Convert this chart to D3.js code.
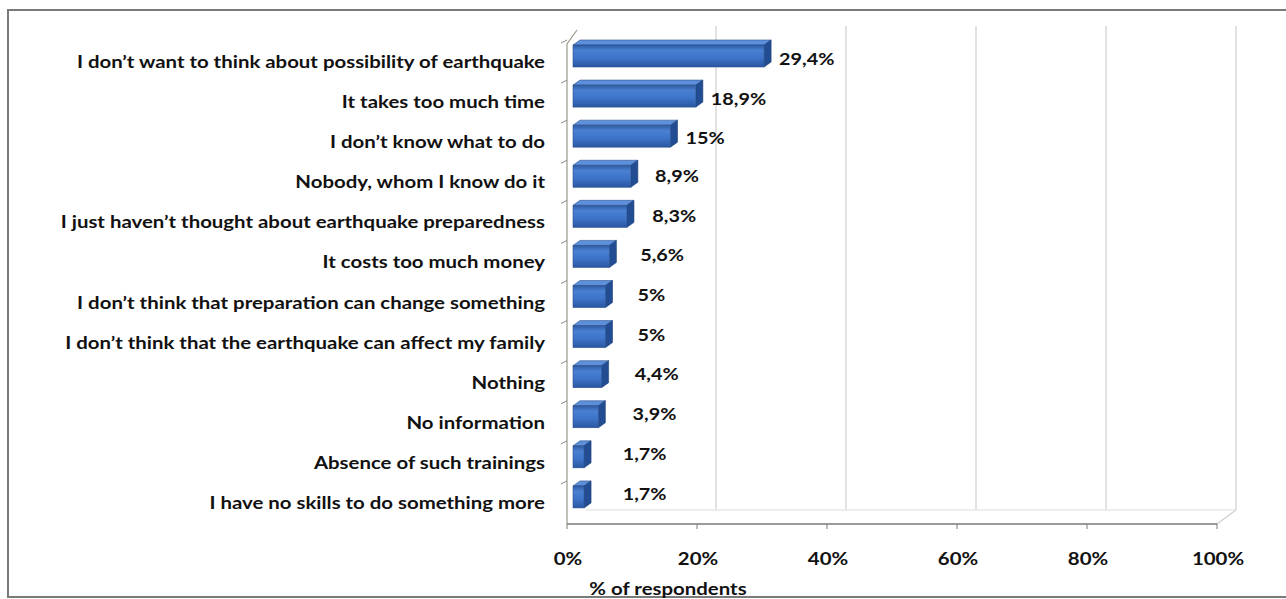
<!DOCTYPE html>
<html><head><meta charset="utf-8">
<script src="https://cdn.jsdelivr.net/npm/d3@7"></script>
<style>html,body{margin:0;padding:0;background:#fff;}svg{display:block;}</style>
</head><body>
<svg id="c" width="1286" height="599"></svg>
<script>
const categories = [
  "I don\u2019t want to think about possibility of earthquake",
  "It takes too much time",
  "I don\u2019t know what to do",
  "Nobody, whom I know do it",
  "I just haven\u2019t thought about earthquake preparedness",
  "It costs too much money",
  "I don\u2019t think that preparation can change something",
  "I don\u2019t think that the earthquake can affect my family",
  "Nothing",
  "No information",
  "Absence of such trainings",
  "I have no skills to do something more"
];
const values = [29.4, 18.9, 15, 8.9, 8.3, 5.6, 5, 5, 4.4, 3.9, 1.7, 1.7];
const valueLabels = ["29,4%","18,9%","15%","8,9%","8,3%","5,6%","5%","5%","4,4%","3,9%","1,7%","1,7%"];
const tickValues = [0, 20, 40, 60, 80, 100];
const tickLabels = ["0%","20%","40%","60%","80%","100%"];
const axisTitle = "% of  respondents";

(function(){
const svg = d3.select("#c");
const font = "Lato, 'Open Sans', sans-serif";
const SX = 1.2; // horizontal text stretch

// frame
svg.append("rect").attr("x",8).attr("y",10).attr("width",1290).attr("height",587)
  .attr("fill","#fff").attr("stroke","#7a7a7a").attr("stroke-width",2);

const x = d3.scaleLinear().domain([0,100]).range([567,1217]);
const y = d3.scaleBand().domain(categories).range([42,523]).padding(0);
const DX = 19, DY = -14; // wall depth offset
const yBottom = 524, yTop = 44;

const g = svg.append("g");
// back wall gridlines
tickValues.forEach(t => {
  if (t===0) return;
  g.append("line").attr("x1",x(t)+DX).attr("x2",x(t)+DX).attr("y1",yTop+DY-4).attr("y2",yBottom+DY)
    .attr("stroke","#d9d9d9").attr("stroke-width",1.5);
});
// floor back edge
g.append("line").attr("x1",x(0)+DX).attr("x2",x(100)+DX).attr("y1",yBottom+DY).attr("y2",yBottom+DY)
  .attr("stroke","#e8e8e8").attr("stroke-width",1.5);
g.append("line").attr("x1",x(100)).attr("x2",x(100)+DX).attr("y1",yBottom).attr("y2",yBottom+DY)
  .attr("stroke","#d0d0d0").attr("stroke-width",1.5);

// left wall (vertical axis)
g.append("path").attr("d",`M${x(0)},${yBottom} L${x(0)},${yTop} L${x(0)+10},${yTop-14}`)
  .attr("fill","none").attr("stroke","#9a9a8a").attr("stroke-width",1.2);
categories.forEach((c) => {
  const yy = y(c);
  g.append("line").attr("x1",x(0)-6).attr("x2",x(0)).attr("y1",yy+1).attr("y2",yy-2)
    .attr("stroke","#8a8a8a").attr("stroke-width",1);
});
// front x axis
g.append("line").attr("x1",x(0)).attr("x2",x(100)).attr("y1",yBottom).attr("y2",yBottom)
  .attr("stroke","#7a7a7a").attr("stroke-width",1.5);
tickValues.forEach(t => {
  g.append("line").attr("x1",x(t)).attr("x2",x(t)).attr("y1",yBottom).attr("y2",yBottom+5)
    .attr("stroke","#7a7a7a").attr("stroke-width",1);
});

// gradients
const defs = svg.append("defs");
const gf = defs.append("linearGradient").attr("id","gf").attr("x1",0).attr("y1",0).attr("x2",0).attr("y2",1);
gf.append("stop").attr("offset","0%").attr("stop-color","#2f5aa0");
gf.append("stop").attr("offset","25%").attr("stop-color","#4a80d2");
gf.append("stop").attr("offset","60%").attr("stop-color","#3d73c8");
gf.append("stop").attr("offset","100%").attr("stop-color","#2a56a0");

function stretchedText(sel, tx, ty, anchor, size, txt){
  sel.append("text").attr("transform",`translate(${tx},${ty}) scale(${SX},1)`)
    .attr("text-anchor",anchor).attr("font-family",font).attr("font-weight",700)
    .attr("font-size",size).attr("fill","#111").text(txt);
}

// bars
const bdx = 7, bdy = -5, bh = 22, boff = 3;
const bars = g.selectAll("g.bar").data(categories).join("g").attr("class","bar");
bars.each(function(c,i){
  const s = d3.select(this);
  const v = values[i];
  const x0 = x(0)+6, x1 = x(v)+6;
  const y0 = y(c)+boff, y1 = y0+bh;
  s.append("path").attr("d",`M${x0},${y0} L${x0+bdx},${y0+bdy} L${x1+bdx},${y0+bdy} L${x1},${y0} Z`)
    .attr("fill","#5d8fda").attr("stroke","#2b5290").attr("stroke-width",0.6);
  s.append("path").attr("d",`M${x1},${y0} L${x1+bdx},${y0+bdy} L${x1+bdx},${y1+bdy} L${x1},${y1} Z`)
    .attr("fill","#234d92").attr("stroke","#1d3f78").attr("stroke-width",0.6);
  s.append("rect").attr("x",x0).attr("y",y0).attr("width",x1-x0).attr("height",bh)
    .attr("fill","url(#gf)").attr("stroke","#2b5290").attr("stroke-width",0.6);
  const lx = x1 + bdx + 8 + Math.max(0, 27 - 2*v);
  const ly = y(c) + 10 + Math.min(7, v*0.4) + 6;
  stretchedText(s, lx, ly, "start", 16.5, valueLabels[i]);
});

// category labels
categories.forEach(c => stretchedText(g, 545, y(c)+y.bandwidth()/2+6, "end", 17, c));

// tick labels
tickValues.forEach((t,i) => stretchedText(g, x(t)+1, 565, "middle", 17, tickLabels[i]));

// axis title
stretchedText(g, 668, 595, "middle", 17, axisTitle);
})();
</script>
</body></html>
